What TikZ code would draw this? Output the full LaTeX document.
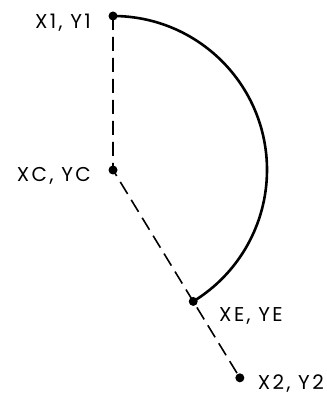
\documentclass[tikz,border=0pt]{standalone}
\usepackage{fontspec}
\setmainfont{Poppins}[LetterSpace=12,Numbers=Monospaced]
\usetikzlibrary{calc}
\begin{document}
\begin{tikzpicture}[x=1pt,y=1pt,
  lbl/.style={inner sep=0pt,font=\fontsize{20}{20}\selectfont},
  dot/.style={circle,fill=black,inner sep=0pt,minimum size=9pt},
  dashline/.style={line width=1.6pt,dash pattern=on 14pt off 7pt},
  arcline/.style={line width=2.6pt}]
\useasboundingbox (0,0) rectangle (327,397);
\coordinate (xc) at (113,227);
\coordinate (x1) at (113,381);
\coordinate (xe) at ($(xc)+(-58.6:154)$);
\coordinate (x2) at ($(xc)+(-58.6:243.5)$);
\draw[dashline] (x1) -- (xc) -- (x2);
\draw[arcline] (x1) arc[start angle=90,end angle=-58.6,radius=154];
\node[dot] (d1) at (x1) {};
\node[dot] (dc) at (xc) {};
\node[dot] (de) at (xe) {};
\node[dot] (d2) at (x2) {};
\node[lbl,anchor=base east] (l1) at (91,368) {X1, Y1};
\node[lbl,anchor=base east] (lc) at (91,215) {XC, YC};
\node[lbl,anchor=base west] (le) at (219,75) {XE, YE};
\node[lbl,anchor=base east] (l2) at (324,8) {X2, Y2};
\end{tikzpicture}
\end{document}
